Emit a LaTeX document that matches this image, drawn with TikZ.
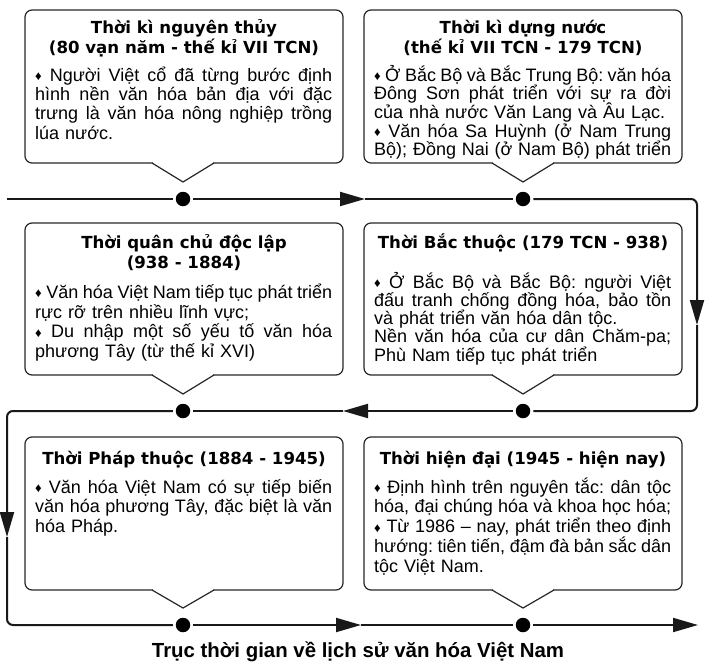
\documentclass[tikz,border=0pt]{standalone}
\usepackage{fontspec}
\setmainfont{Liberation Sans}
\newfontfamily\tfont{DejaVu Sans}
\usetikzlibrary{arrows.meta,calc}
\newcommand\J[1]{\leavevmode\hbox to 297pt{\spaceskip=0.278em plus 1fil minus 0.09em\relax\xspaceskip=\spaceskip #1}}
\newcommand\bul{\raisebox{0.6pt}{\fontsize{13}{13}\selectfont ♦}}
\newcommand\fixls{\lineskiplimit-50pt\relax\parindent0pt\relax}
\newcommand\bfs[1]{\fontsize{18}{#1}\selectfont\fixls}
\newcommand\callout[6]{%
  \draw[boxline,rounded corners=7pt] (#1,#2) rectangle (#3,#4);
  \fill[white] ({#5-30.4},{#4-1}) rectangle ({#5+30.4},{#4+1});
  \draw[boxline,line join=miter] ({#5-31},#4) -- ($(#6)+(0,-17)$) -- ({#5+31},#4);
}
\begin{document}
\begin{tikzpicture}[x=1pt,y=-1pt,
  boxline/.style={draw=black!85,line width=1.2pt},
  tl/.style={line width=2pt,draw=black!90},
  arr/.style={-{Triangle[length=25pt,width=14pt]}},
  dot/.style={circle,fill=black,inner sep=0pt,minimum size=14.5pt,outer sep=3pt},
  ttl/.style={anchor=north,inner sep=0pt,align=center,font=\tfont\bfseries\fontsize{16.6}{20}\selectfont\fixls},
  bodytxt/.style={anchor=north west,inner sep=0pt,text width=297pt,align=left}]
\useasboundingbox (0,0) rectangle (715,672);
% dots
\node[dot] (d1) at (183,199) {};
\node[dot] (d2) at (523,199) {};
\node[dot] (d3) at (523,411) {};
\node[dot] (d4) at (183,411) {};
\node[dot] (d5) at (183,625) {};
\node[dot] (d6) at (523,625) {};
% corner / arrow coordinates
\coordinate (s1) at (7,199);
\coordinate (a1) at (365,199);
\coordinate (c1) at (697,199);
\coordinate (a2) at (697,325);
\coordinate (c2) at (697,411);
\coordinate (a3) at (343,411);
\coordinate (c3) at (7,411);
\coordinate (a4) at (7,537);
\coordinate (c4) at (7,625);
\coordinate (a5) at (361,625);
\coordinate (e1) at (698,625);
% timeline
\draw[tl] (s1) -- (d1);
\draw[tl,arr] (d1) -- (a1);
\draw[tl] (a1) -- (d2);
\draw[tl,arr,rounded corners=6pt] (d2) -- (c1) -- (a2);
\draw[tl,rounded corners=6pt] (a2) -- (c2) -- (d3);
\draw[tl,arr] (d3) -- (a3);
\draw[tl] (a3) -- (d4);
\draw[tl,arr,rounded corners=6pt] (d4) -- (c3) -- (a4);
\draw[tl,rounded corners=6pt] (a4) -- (c4) -- (d5);
\draw[tl,arr] (d5) -- (a5);
\draw[tl] (a5) -- (d6);
\draw[tl,arr] (d6) -- (e1);
% callouts
\callout{25}{10}{343}{163}{183}{d1}
\callout{364}{10}{682}{163}{523}{d2}
\callout{25}{223}{343}{375}{183}{d4}
\callout{364}{223}{682}{375}{523}{d3}
\callout{25}{437}{343}{590}{183}{d5}
\callout{364}{437}{682}{590}{523}{d6}
% titles
\node[ttl] (t1) at (184,15) {\rule{0pt}{18pt}Thời kì nguyên thủy\\(80 vạn năm - thế kỉ VII TCN)};
\node[ttl] (t2) at (523,15) {\rule{0pt}{18pt}Thời kì dựng nước\\(thế kỉ VII TCN - 179 TCN)};
\node[ttl] (t3) at (184,230) {\rule{0pt}{18pt}Thời quân chủ độc lập\\(938 - 1884)};
\node[ttl] (t4) at (523,230) {\rule{0pt}{18pt}Thời Bắc thuộc (179 TCN - 938)};
\node[ttl] (t5) at (184,446) {\rule{0pt}{18pt}Thời Pháp thuộc (1884 - 1945)};
\node[ttl] (t6) at (523,446) {\rule{0pt}{18pt}Thời hiện đại (1945 - hiện nay)};
% bodies
\node[bodytxt,font={\bfs{19.3}}] (b1) at (35,64)
 {\rule{0pt}{17pt}\J{\bul{} Người Việt cổ đã từng bước định}\\\J{hình nền văn hóa bản địa với đặc}\\\J{trưng là văn hóa nông nghiệp trồng}\\lúa nước.};
\node[bodytxt,font={\bfs{18.6}}] (b2) at (374,64)
 {\rule{0pt}{17pt}\J{\bul{} Ở Bắc Bộ và Bắc Trung Bộ: văn hóa}\\\J{Đông Sơn phát triển với sự ra đời}\\của nhà nước Văn Lang và Âu Lạc.\\\J{\bul{} Văn hóa Sa Huỳnh (ở Nam Trung}\\\J{Bộ); Đồng Nai (ở Nam Bộ) phát triển}};
\node[bodytxt,font={\bfs{19.8}}] (b3) at (35,281)
 {\rule{0pt}{17pt}\J{\bul{} Văn hóa Việt Nam tiếp tục phát triển}\\rực rỡ trên nhiều lĩnh vực;\\\J{\bul{} Du nhập một số yếu tố văn hóa}\\phương Tây (từ thế kỉ XVI)};
\node[bodytxt,font={\bfs{18.2}}] (b4) at (374,271)
 {\rule{0pt}{17pt}\J{\bul{} Ở Bắc Bộ và Bắc Bộ: người Việt}\\\J{đấu tranh chống đồng hóa, bảo tồn}\\và phát triển văn hóa dân tộc.\\\J{Nền văn hóa của cư dân Chăm-pa;}\\Phù Nam tiếp tục phát triển};
\node[bodytxt,font={\bfs{19.5}}] (b5) at (35,476)
 {\rule{0pt}{17pt}\J{\bul{} Văn hóa Việt Nam có sự tiếp biến}\\\J{văn hóa phương Tây, đặc biệt là văn}\\hóa Pháp.};
\node[bodytxt,font={\bfs{19.7}}] (b6) at (374,476)
 {\rule{0pt}{17pt}\J{\bul{} Định hình trên nguyên tắc: dân tộc}\\\J{hóa, đại chúng hóa và khoa học hóa;}\\\J{\bul{} Từ 1986 – nay, phát triển theo định}\\\J{hướng: tiên tiến, đậm đà bản sắc dân}\\tộc Việt Nam.};
% caption
\node[anchor=base,inner sep=0pt,font=\bfseries\fontsize{20.4}{24}\selectfont] (cap) at (358,657)
 {Trục thời gian về lịch sử văn hóa Việt Nam};
\end{tikzpicture}
\end{document}
